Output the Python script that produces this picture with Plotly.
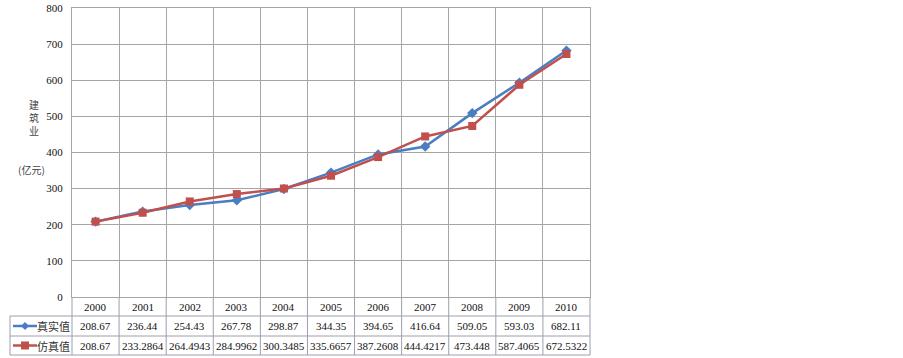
import plotly.graph_objects as go

years = [2000, 2001, 2002, 2003, 2004, 2005, 2006, 2007, 2008, 2009, 2010]
real_vals = [208.67, 236.44, 254.43, 267.78, 298.87, 344.35, 394.65, 416.64, 509.05, 593.03, 682.11]
sim_vals = [208.67, 233.2864, 264.4943, 284.9962, 300.3485, 335.6657, 387.2608, 444.4217, 473.448, 587.4065, 672.5322]
series_names = ["真实值", "仿真值"]
y_label_chars = ["建", "筑", "业"]
y_unit = "(亿元)"

W, H = 903, 358
L, R, T, B = 72, 313, 8, 61
PW, PH = W - L - R, H - T - B
BLUE = "#4A7EC2"
RED = "#C0504D"
GRID = "#A6A6A6"
TBL = "#9E9EAE"
SERIF = "Liberation Serif, Times New Roman, serif"
CJK = "Noto Sans CJK SC, sans-serif"


def px2x(px):
    return (px - L) / PW


def py2y(py):
    return (T + PH - py) / PH


x0 = years[0] - 0.5
x1 = years[-1] + 0.5


def yr2paper(v):
    return (v - x0) / (x1 - x0)


fig = go.Figure()
fig.add_trace(go.Scatter(x=years, y=real_vals, mode="lines+markers", name=series_names[0],
                         line=dict(color=BLUE, width=2.5),
                         marker=dict(symbol="diamond", size=8, color=BLUE)))
fig.add_trace(go.Scatter(x=years, y=sim_vals, mode="lines+markers", name=series_names[1],
                         line=dict(color=RED, width=2.5),
                         marker=dict(symbol="square", size=8, color=RED)))

shapes = []
ann = []

row_top = py2y(297)
row1 = py2y(316)
row2 = py2y(336)
row3 = py2y(355)
c_hdr = (row_top + row1) / 2
c_r1 = (row1 + row2) / 2
c_r2 = (row2 + row3) / 2
tx_left = px2x(10)

# table vertical lines
for b in [y - 0.5 for y in years] + [years[-1] + 0.5]:
    shapes.append(dict(type="line", xref="paper", yref="paper", x0=yr2paper(b), x1=yr2paper(b),
                       y0=row_top, y1=row3, line=dict(color=TBL, width=1)))
shapes.append(dict(type="line", xref="paper", yref="paper", x0=tx_left, x1=tx_left,
                   y0=row1, y1=row3, line=dict(color=TBL, width=1)))
for yy in [row1, row2, row3]:
    shapes.append(dict(type="line", xref="paper", yref="paper", x0=tx_left, x1=1,
                       y0=yy, y1=yy, line=dict(color=TBL, width=1)))

# legend keys in table
for cy, col, sym in [(c_r1, BLUE, "diamond"), (c_r2, RED, "square")]:
    shapes.append(dict(type="line", xref="paper", yref="paper", x0=px2x(13), x1=px2x(37),
                       y0=cy, y1=cy, line=dict(color=col, width=2.5)))
    cx = px2x(25)
    dx, dy = 4 / PW, 4 / PH
    if sym == "diamond":
        path = f"M{cx-dx},{cy} L{cx},{cy+dy} L{cx+dx},{cy} L{cx},{cy-dy} Z"
    else:
        path = f"M{cx-dx},{cy-dy} L{cx-dx},{cy+dy} L{cx+dx},{cy+dy} L{cx+dx},{cy-dy} Z"
    shapes.append(dict(type="path", xref="paper", yref="paper", path=path,
                       fillcolor=col, line=dict(color=col, width=0)))


def add_text(x, y, text, family, size, color="#111"):
    ann.append(dict(x=x, y=y, xref="paper", yref="paper", text=text, showarrow=False,
                    xanchor="center", yanchor="middle", borderpad=0,
                    font=dict(family=family, size=size, color=color)))


add_text(px2x(53), c_r1, series_names[0], CJK, 11, "#333")
add_text(px2x(53), c_r2, series_names[1], CJK, 11, "#333")

for i, yv in enumerate(years):
    add_text(yr2paper(yv), c_hdr, str(yv), SERIF, 11)
    add_text(yr2paper(yv), c_r1, str(real_vals[i]), SERIF, 11)
    add_text(yr2paper(yv), c_r2, str(sim_vals[i]), SERIF, 11)

# y label (stacked vertical characters)
add_text(px2x(34), py2y(117), "<br>".join(y_label_chars), CJK, 10, "#444")
add_text(px2x(31), py2y(169), y_unit, CJK, 10, "#444")

fig.update_layout(
    width=W, height=H,
    margin=dict(l=L, r=R, t=T, b=B, autoexpand=False),
    paper_bgcolor="white", plot_bgcolor="white",
    showlegend=False,
    shapes=shapes, annotations=ann,
    xaxis=dict(range=[x0, x1], tick0=x0, dtick=1, showticklabels=False, automargin=False,
               showgrid=True, gridcolor=GRID, gridwidth=1, zeroline=False,
               showline=True, linecolor=GRID, mirror=True, ticks=""),
    yaxis=dict(range=[0, 800], dtick=100, showgrid=True, gridcolor=GRID, gridwidth=1,
               zeroline=False, showline=True, linecolor=GRID, mirror=True, ticks="",
               ticklabelstandoff=6, automargin=False,
               tickfont=dict(family=SERIF, size=11, color="#111")),
)

fig.write_html("out.html", config={"displayModeBar": False},
               post_script="document.body.style.margin='0';document.body.style.overflow='hidden';")
